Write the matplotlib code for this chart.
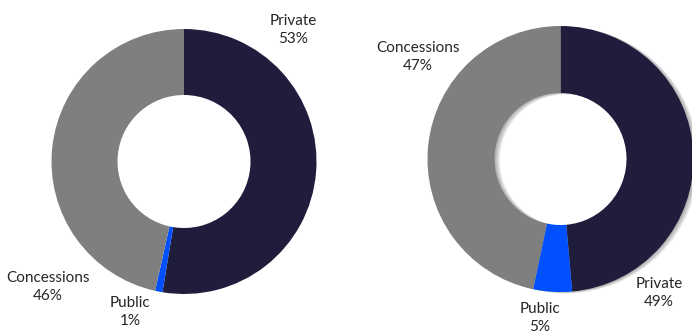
import matplotlib.pyplot as plt
from matplotlib.patches import Wedge

# data
categories = ["Private", "Public", "Concessions"]
left_values = [52.6, 0.9, 46.5]
right_values = [48.6, 4.7, 46.7]
colors = ["#201c3c", "#0050ff", "#7f7f7f"]

W, H = 692, 333
fig = plt.figure(figsize=(6.92, 3.33), dpi=100)
ax = fig.add_axes([0, 0, 1, 1])

# left donut
ax.pie(left_values, colors=colors, startangle=90, counterclock=False,
       center=(184, H - 161.5), radius=132.5,
       wedgeprops=dict(width=66, linewidth=0))

# soft shadow behind the right donut, cast to the right
cx, cy = 560.5, H - 159
for s in range(1, 8):
    sh = Wedge((cx + s * 0.8, cy - s * 0.2), 133, 0, 360, width=67,
               facecolor="black", alpha=0.05, linewidth=0, zorder=0)
    ax.add_patch(sh)

ax.pie(right_values, colors=colors, startangle=90, counterclock=False,
       center=(cx, cy), radius=133,
       wedgeprops=dict(width=67, linewidth=0, zorder=2))

ax.set_xlim(0, W)
ax.set_ylim(0, H)
ax.set_aspect("equal")
ax.axis("off")


def lbl(name, v):
    return f"{name}\n{round(v)}%"


font = dict(fontsize=11, family="Lato", color="#262626",
            ha="center", va="center", linespacing=1.45)
left_pos = [(293, 30), (130, 312), (48, 287)]
right_pos = [(659, 293), (540, 318), (418, 57)]
for name, v, (x, y) in zip(categories, left_values, left_pos):
    ax.text(x, H - y, lbl(name, v), **font)
for name, v, (x, y) in zip(categories, right_values, right_pos):
    ax.text(x, H - y, lbl(name, v), **font)

fig.savefig("out.png", dpi=100)
